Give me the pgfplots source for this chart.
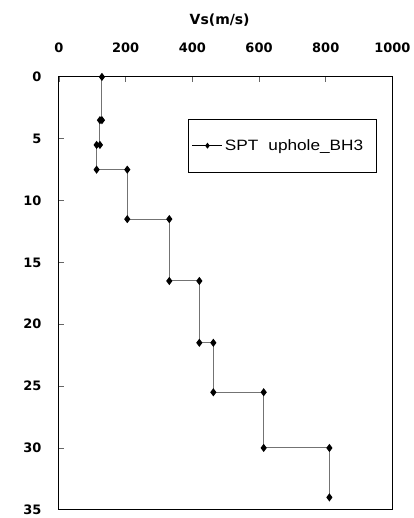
\documentclass[border=0pt]{standalone}
\usepackage{fontspec}
\setmainfont{DejaVu Sans}
\newfontfamily\legfont[FakeStretch=1.15]{Liberation Sans}
\usepackage{pgfplots}
\pgfplotsset{compat=1.18}
\begin{document}
\begin{tikzpicture}
\begin{axis}[
  scale only axis,
  width=334pt, height=433.5pt,
  xmin=0, xmax=1000, ymin=0, ymax=35,
  y dir=reverse,
  axis x line*=box, axis y line*=box,
  xtick={0,200,400,600,800,1000},
  ytick={0,5,10,15,20,25,30,35},
  xticklabel pos=top,
  xtick pos=top, ytick pos=left,
  tick align=inside,
  major tick length=5pt,
  tick style={black!60, line width=0.8pt},
  axis line style={black, line width=0.9pt},
  /pgf/number format/assume math mode=true,
  /pgf/number format/1000 sep={},
  ticklabel style={font=\bfseries\fontsize{13}{13}\selectfont},
  xticklabel style={yshift=21pt},
  yticklabel style={xshift=-14pt},
  xlabel={Vs(m/s)},
  xlabel style={font=\bfseries\fontsize{14}{14}\selectfont, yshift=9pt, xshift=-6pt},
  legend style={at={(rel axis cs:0.386,0.903)}, anchor=north west,
    draw=black, line width=0.7pt, font=\legfont\fontsize{15}{15}\selectfont,
    minimum height=53pt, text width=146pt, inner xsep=4pt, inner ysep=0pt},
  legend cell align=left,
  legend image code/.code={%
    \draw[#1, black, mark repeat=2, mark phase=2, mark size=2.2pt]
      plot coordinates {(0pt,0pt) (15pt,0pt) (30pt,0pt)};},
]
\addplot[black!55, line width=1pt, mark=diamond*, mark size=3.3pt,
  mark options={fill=black, draw=black}]
coordinates {
(129,0) (129,3.5) (123,3.5) (123,5.5) (113,5.5) (113,7.5)
(205,7.5) (205,11.5) (331,11.5) (331,16.5) (421,16.5) (421,21.5)
(463,21.5) (463,25.5) (614,25.5) (614,30) (811,30) (811,34)
};
\addlegendentry{SPT\ \ uphole\_BH3}
\path (rel axis cs:0,0) coordinate (BL);
\end{axis}
\useasboundingbox (BL) ++(-59pt,-7.5pt) rectangle ++(414pt,518pt);
\end{tikzpicture}
\end{document}
